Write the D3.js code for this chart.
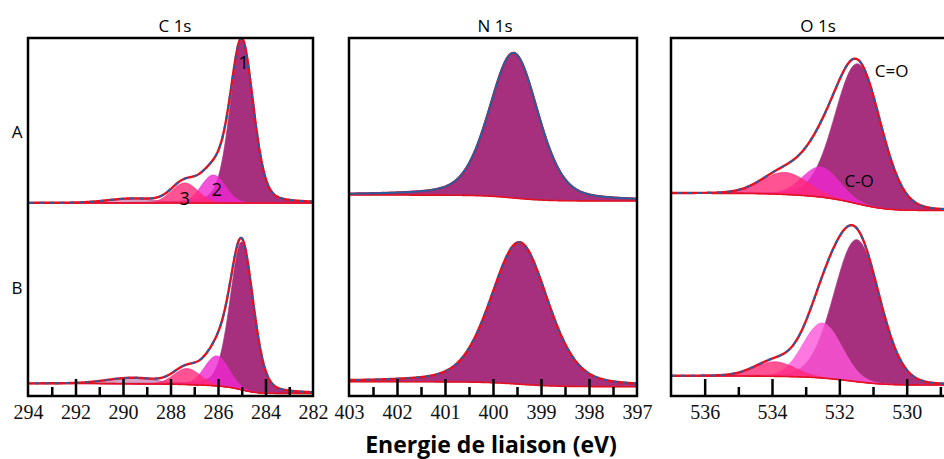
<!DOCTYPE html>
<html><head><meta charset="utf-8">
<script src="https://cdn.jsdelivr.net/npm/d3@7"></script>
<style>html,body{margin:0;padding:0;background:#fff}svg{display:block}</style>
</head><body>
<svg id="chart" width="944" height="459"></svg>
<script>
// ---------- text ----------
const panelTitles = ["C 1s", "N 1s", "O 1s"];
const rowLabels = ["A", "B"];
const xAxisTitle = "Energie de liaison (eV)";
const c1sPeakLabels = ["1", "2", "3"];
const o1sPeakLabels = ["C=O", "C-O"];

// ---------- binding-energy domains (eV, high -> low) ----------
const cDomain = [294, 282];
const nDomain = [403, 397];
const oDomain = [537, 528];

// ---------- ticks ----------
const cMajorTicks = [294, 292, 290, 288, 286, 284, 282];
const cMinorTicks = [293, 291, 289, 287, 285, 283];
const nMajorTicks = [403, 402, 401, 400, 399, 398, 397];
const nMinorTicks = [402.5, 401.5, 400.5, 399.5, 398.5, 397.5];
const oMajorTicks = [536, 534, 532, 530];
const oMinorTicks = [535, 533, 531, 529];

// ---------- fitted components: [centre eV, height (a.u.), FWHM eV, Lorentzian fraction] ----------
const c1sA = [[285.0, 163, 1.15, 0.25], [289.6, 4, 2.4, 0], [286.2, 28, 1.2, 0], [287.4, 20, 1.3, 0]];
const c1sB = [[285.0, 148, 1.15, 0.25], [289.6, 5.5, 2.5, 0], [286.05, 30, 1.2, 0], [287.3, 16, 1.3, 0]];
const n1sA = [[399.57, 145, 1.2, 0.3]];
const n1sB = [[399.45, 142, 1.4, 0.3]];
const o1sA = [[531.45, 140, 1.6, 0.1], [532.55, 30, 1.3, 0], [533.62, 22, 1.6, 0]];
const o1sB = [[531.48, 142, 1.6, 0.1], [532.5, 55, 1.35, 0], [533.92, 14.5, 1.4, 0]];

// ---------- Shirley background levels: [high-BE side, low-BE side] ----------
const bgC1sA = [9, 9];
const bgC1sB = [11.5, 1.5];
const bgN1sA = [17, 11];
const bgN1sB = [13.3, 8.3];
const bgO1sA = [18.7, 1.5];
const bgO1sB = [19, 10];

// ---------- styles ----------
const PURPLE = "#a6307e", MAGENTA = "#f028d2", LIGHTMAG = "#ff55d8", PINK = "#ff2878";
const RED = "#e3101f", BLUE = "#2a5d9f";

const panels = [
  {title: panelTitles[0], domain: cDomain, x0: 28, x1: 313, major: cMajorTicks, minor: cMinorTicks,
   labels: cMajorTicks, titleX: 175,
   spectra: [{comps: c1sA, bg: bgC1sA, colors: [PURPLE, PURPLE, MAGENTA, PINK], ops: [1, 0.45, 0.8, 0.8], dashed: true},
             {comps: c1sB, bg: bgC1sB, colors: [PURPLE, PURPLE, MAGENTA, PINK], ops: [1, 0.45, 0.8, 0.8], dashed: true}]},
  {title: panelTitles[1], domain: nDomain, x0: 349, x1: 637, major: nMajorTicks, minor: nMinorTicks,
   labels: nMajorTicks, titleX: 495,
   spectra: [{comps: n1sA, bg: bgN1sA, colors: [PURPLE], ops: [1], dashed: false},
             {comps: n1sB, bg: bgN1sB, colors: [PURPLE], ops: [1], dashed: true}]},
  {title: panelTitles[2], domain: oDomain, x0: 671, x1: 671 + 9 * 33.67, major: oMajorTicks, minor: oMinorTicks,
   labels: oMajorTicks, titleX: 818,
   spectra: [{comps: o1sA, bg: bgO1sA, colors: [PURPLE, MAGENTA, PINK], ops: [1, 0.8, 0.8], dashed: true},
             {comps: o1sB, bg: bgO1sB, colors: [PURPLE, LIGHTMAG, PINK], ops: [1, 0.8, 0.8], dashed: true}]}
];

const boxTop = 38, axisY = 396;
const rowBase = [212, 395];

const svg = d3.select("#chart");
const defs = svg.append("defs");
const sans = "'Open Sans', sans-serif";

function pv(e, p) {
  const [c, h, w, eta] = p;
  const u = (e - c) / w;
  return h * ((1 - eta) * Math.exp(-4 * Math.LN2 * u * u) + eta / (1 + 4 * u * u));
}

panels.forEach((P, pi) => {
  const x = d3.scaleLinear().domain(P.domain).range([P.x0, P.x1]);
  const g = svg.append("g");
  const clipId = "clip" + pi;
  defs.append("clipPath").attr("id", clipId).append("rect")
    .attr("x", P.x0).attr("y", boxTop).attr("width", P.x1 - P.x0).attr("height", axisY - boxTop);
  const plot = g.append("g").attr("clip-path", `url(#${clipId})`);

  const lo = Math.min(...P.domain), hi = Math.max(...P.domain);
  const energies = d3.range(lo, hi + 1e-9, 0.02); // ascending sampling grid

  P.spectra.forEach((S, ri) => {
    const y = d3.scaleLinear().domain([0, 170]).range([rowBase[ri], rowBase[ri] - 170]);
    const comps = energies.map(e => S.comps.map(p => pv(e, p)));
    const sums = comps.map(a => d3.sum(a));
    // Shirley-type background: cumulative area from the low-BE side
    const cum = []; let acc = 0;
    sums.forEach(s => { acc += s; cum.push(acc); });
    const total = acc;
    const bg = cum.map(c => S.bg[1] + (S.bg[0] - S.bg[1]) * c / total);
    const pts = energies.map((e, i) => ({e, bg: bg[i], comps: comps[i], sum: sums[i]}));

    S.comps.forEach((p, ci) => {
      const area = d3.area().x(d => x(d.e)).y0(d => y(d.bg)).y1(d => y(d.bg + d.comps[ci]));
      plot.append("path").datum(pts).attr("d", area)
        .attr("fill", S.colors[ci]).attr("fill-opacity", S.ops[ci])
        .attr("stroke", S.colors[ci]).attr("stroke-width", 0.8).attr("stroke-opacity", 0.9);
    });
    const bgLine = d3.line().x(d => x(d.e)).y(d => y(d.bg));
    plot.append("path").datum(pts).attr("d", bgLine).attr("fill", "none")
      .attr("stroke", RED).attr("stroke-width", 1.6);
    const env = d3.line().x(d => x(d.e)).y(d => y(d.bg + d.sum));
    plot.append("path").datum(pts).attr("d", env).attr("fill", "none")
      .attr("stroke", RED).attr("stroke-width", 2.4);
    plot.append("path").datum(pts).attr("d", env).attr("fill", "none")
      .attr("stroke", BLUE).attr("stroke-width", 2)
      .attr("stroke-dasharray", S.dashed ? "4,6" : null);
  });

  // axes (ticks point inward)
  const axMajor = d3.axisBottom(x).tickValues(P.major).tickSize(-17).tickPadding(9)
    .tickFormat(d => P.labels.includes(d) ? d3.format("d")(d) : "");
  const axMinor = d3.axisBottom(x).tickValues(P.minor).tickSize(-9).tickFormat("");
  const ga = g.append("g").attr("transform", `translate(0,${axisY})`).call(axMajor);
  const gm = g.append("g").attr("transform", `translate(0,${axisY})`).call(axMinor);
  [ga, gm].forEach(a => {
    a.select(".domain").remove();
    a.selectAll(".tick line").attr("stroke", "#000").attr("stroke-width", 2.5);
  });
  ga.selectAll(".tick text").attr("fill", "#111")
    .style("font-family", "'Liberation Serif', 'Times New Roman', serif").style("font-size", "20px");
  ga.selectAll(".tick line").filter(d => d === P.domain[0] || d === P.domain[1]).remove();

  // frame
  g.append("rect").attr("x", P.x0).attr("y", boxTop).attr("width", P.x1 - P.x0).attr("height", axisY - boxTop)
    .attr("fill", "none").attr("stroke", "#000").attr("stroke-width", 2.5);

  // title
  g.append("text").attr("x", P.titleX).attr("y", 32)
    .attr("text-anchor", "middle").style("font-family", sans).style("font-size", "17px")
    .text(P.title);
});

rowLabels.forEach((t, i) => {
  svg.append("text").attr("x", 17).attr("y", [138, 294][i]).attr("text-anchor", "middle")
    .style("font-family", sans).style("font-size", "17px").text(t);
});

// peak labels
const cX = d3.scaleLinear().domain(cDomain).range([28, 313]);
const oX = d3.scaleLinear().domain(oDomain).range([671, 671 + 9 * 33.67]);
const c1Pos = [[284.92, 69], [286.05, 196], [287.4, 205]];
c1sPeakLabels.forEach((t, i) => {
  svg.append("text").attr("x", cX(c1Pos[i][0])).attr("y", c1Pos[i][1]).attr("text-anchor", "middle")
    .style("font-family", sans).style("font-size", "18px").text(t);
});
const oPos = [[530.95, 77], [531.85, 187]];
o1sPeakLabels.forEach((t, i) => {
  svg.append("text").attr("x", oX(oPos[i][0])).attr("y", oPos[i][1]).attr("text-anchor", "start")
    .style("font-family", sans).style("font-size", "17px").text(t);
});

svg.append("text").attr("x", 491).attr("y", 453).attr("text-anchor", "middle")
  .style("font-family", sans).style("font-weight", "bold").style("font-size", "23px")
  .text(xAxisTitle);
</script>
</body></html>
